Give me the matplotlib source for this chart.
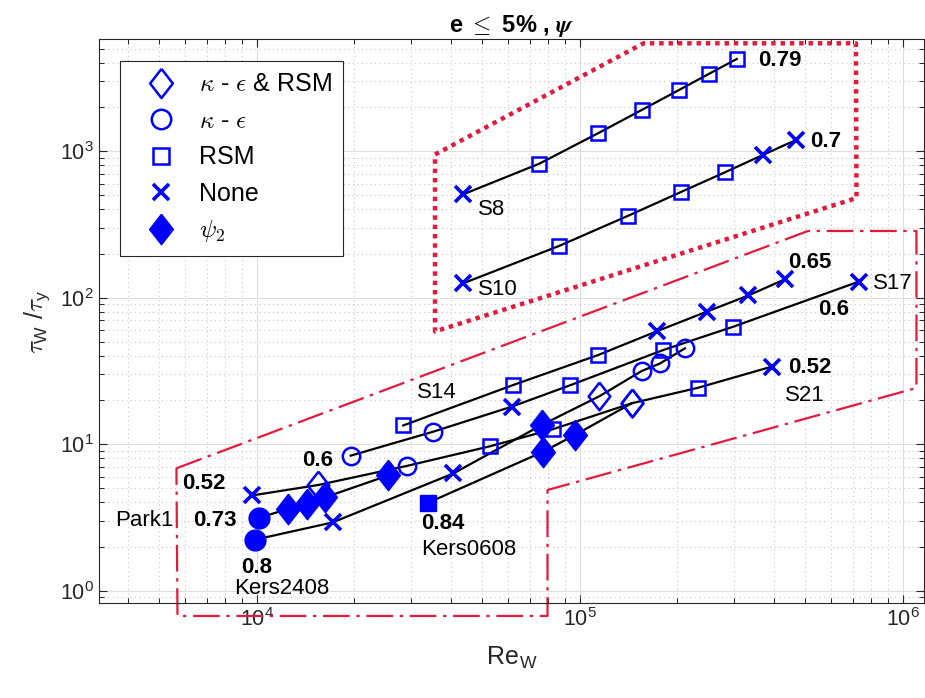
import matplotlib
matplotlib.use('Agg')
import matplotlib.pyplot as plt
from matplotlib.lines import Line2D

plt.rcParams['font.family'] = ['Liberation Sans', 'DejaVu Sans']
plt.rcParams['mathtext.fontset'] = 'cm'

# ---- data : (Re_W, tau_W/tau_y, marker code) per case ----
# marker codes: x None, s RSM, o k-eps, d k-eps & RSM, D psi2, O filled circle, S filled square
park1_re = [10200, 12530, 14310, 16330, 25500]
park1_tau = [3.146, 3.623, 3.920, 4.347, 6.113]
park1_mk = ['O', 'D', 'D', 'D', 'D']

kers2408_re = [9880, 17170, 40620, 76280, 115000, 155600, 177300, 211800]
kers2408_tau = [2.229, 2.922, 6.31, 13.52, 21.23, 31.6, 35.56, 45.14]
kers2408_mk = ['O', 'x', 'x', 'D', 'd', 'o', 'o', 'o']

kers0608_re = [33990, 77150, 96700, 144900]
kers0608_tau = [3.988, 8.889, 11.56, 19.02]
kers0608_mk = ['S', 'D', 'D', 'd']

s21_re = [9670, 15510, 29200, 52780, 82490, 144900, 232900, 392900]
s21_tau = [4.465, 5.266, 7.11, 9.676, 12.64, 19.02, 24.30, 33.81]
s21_mk = ['x', 'd', 'o', 's', 's', 'd', 's', 'x']

s14_re = [28420, 62300, 114200, 173200, 247300, 332700, 432100]
s14_tau = [13.42, 25.36, 40.63, 58.97, 80.25, 103.5, 133.6]
s14_mk = ['s', 's', 's', 'x', 'x', 'x', 'x']

s17_re = [19540, 35210, 61590, 93050, 181500, 298900, 730800]
s17_tau = [8.35, 12.17, 18.03, 25.16, 43.95, 63.4, 128.6]
s17_mk = ['o', 'o', 'x', 's', 's', 's', 'x']

s8_re = [43620, 74980, 113900, 155600, 203000, 251900, 306300]
s8_tau = [507.8, 821.5, 1325, 1911, 2617, 3381, 4259]
s8_mk = ['x', 's', 's', 's', 's', 's', 's']

s10_re = [43620, 86290, 140800, 205900, 281800, 368700, 467300]
s10_tau = [125.4, 225.4, 361.2, 526.6, 717.8, 941.9, 1193]
s10_mk = ['x', 's', 's', 's', 's', 'x', 'x']

# outlined regions
dotted_re = [35650, 157600, 716700, 719400, 35650, 35650]
dotted_tau = [949.5, 5452, 5452, 479, 58.8, 949.5]
dashdot_re = [5645, 508900, 1103000, 1103000, 79500, 79500, 5686, 5645]
dashdot_tau = [6.848, 285.3, 285.3, 24.19, 4.867, 0.672, 0.672, 6.848]

# text labels: (text, Re, tau, bold)
labels = [
    ('0.79', 356500, 4128, True), ('0.7', 516400, 1161, True),
    ('S8', 48550, 396.8, False), ('S10', 48550, 112.9, False),
    ('0.65', 442300, 174.4, True), ('S17', 811000, 125.4, False),
    ('0.6', 547900, 83.7, True), ('0.52', 442300, 33.28, True),
    ('S21', 432100, 21.33, False), ('S14', 31430, 22.61, False),
    ('0.6', 13780, 7.717, True), ('0.52', 5859, 5.41, True),
    ('Park1', 3641, 2.991, False), ('0.73', 6338, 2.991, True),
    ('0.8', 8923, 1.445, True), ('Kers2408', 8523, 1.038, False),
    ('0.84', 32190, 2.853, True), ('Kers0608', 32190, 1.896, False),
]

blue = '#0000ff'
red = '#e41a3c'
diamond = [(0, 1), (0.78, 0), (0, -1), (-0.78, 0), (0, 1)]
styles = {
    'x': dict(marker='x', ms=11, mew=2.6, mfc='none', mec=blue),
    's': dict(marker='s', ms=9.5, mew=1.8, mfc='none', mec=blue),
    'o': dict(marker='o', ms=12.5, mew=1.8, mfc='none', mec=blue),
    'd': dict(marker=diamond, ms=20, mew=1.8, mfc='none', mec=blue),
    'D': dict(marker=diamond, ms=22, mew=1, mfc=blue, mec=blue),
    'O': dict(marker='o', ms=15, mew=1, mfc=blue, mec=blue),
    'S': dict(marker='s', ms=11, mew=1, mfc=blue, mec=blue),
}

fig = plt.figure(figsize=(9.25, 6.98), dpi=100)
ax = fig.add_axes([99 / 925, 1 - 603.3 / 698, 825 / 925, 564 / 698])
ax.set_xscale('log')
ax.set_yscale('log')

cases = [(park1_re, park1_tau, park1_mk), (kers2408_re, kers2408_tau, kers2408_mk),
         (kers0608_re, kers0608_tau, kers0608_mk), (s21_re, s21_tau, s21_mk),
         (s14_re, s14_tau, s14_mk), (s17_re, s17_tau, s17_mk),
         (s8_re, s8_tau, s8_mk), (s10_re, s10_tau, s10_mk)]

for re, tau, mk in cases:
    ax.plot(re, tau, '-', color='k', lw=1.6, zorder=3)
for re, tau, mk in cases:
    for xv, yv, m in zip(re, tau, mk):
        ax.plot([xv], [yv], ls='none', zorder=4, **styles[m])

ax.plot(dotted_re, dotted_tau, color=red, lw=3.2, ls=(0, (1, 1.1)), zorder=2)
ax.plot(dashdot_re, dashdot_tau, color=red, lw=1.6, ls=(0, (12, 3, 1.5, 3)),
        zorder=2, clip_on=False)

for txt, xv, yv, bold in labels:
    ax.text(xv, yv, txt, fontsize=16, fontweight='bold' if bold else 'normal',
            ha='left', va='center', color='k', zorder=5)

ax.set_xlim(3250, 1.164e6)
ax.set_ylim(0.82, 5805)

ax.grid(True, which='major', color='#dedede', lw=0.8, ls='-')
ax.grid(True, which='minor', color='#c8c8c8', lw=0.8, ls=(0, (1, 3)))
ax.set_axisbelow(True)
ax.tick_params(which='both', direction='in', top=True, right=True,
               colors='#262626', labelsize=15.5)
ax.tick_params(which='major', length=6, width=0.8)
ax.tick_params(which='minor', length=3.5, width=0.7)
for sp in ax.spines.values():
    sp.set_color('#262626')
    sp.set_linewidth(0.8)

ax.set_xlabel(r'Re$_{\mathregular{W}}$', fontsize=18, color='#262626', labelpad=10)
ax.set_ylabel(r'$\tau_{\mathregular{W}}$ /$\tau_{\mathregular{y}}$', fontsize=18,
              color='#262626', labelpad=6)
ax.set_title(r'e $\leq$ 5% , $\boldsymbol{\psi}$', fontsize=17, fontweight='bold', pad=5)

handles = [
    Line2D([], [], ls='none', **dict(styles['d'], ms=21)),
    Line2D([], [], ls='none', **dict(styles['o'], ms=14)),
    Line2D([], [], ls='none', **dict(styles['s'], ms=11)),
    Line2D([], [], ls='none', **dict(styles['x'], ms=12)),
    Line2D([], [], ls='none', **dict(styles['D'], ms=22)),
]
names = [r'$\kappa$ - $\epsilon$ & RSM', r'$\kappa$ - $\epsilon$', 'RSM', 'None', r'$\psi_2$']
leg = ax.legend(handles, names, loc='upper left', bbox_to_anchor=(0.0255, 0.9615),
                borderaxespad=0, fontsize=18, fancybox=False, framealpha=1,
                edgecolor='#262626', labelspacing=0.5, handletextpad=0.3,
                borderpad=0.45, handlelength=2.4)
leg.get_frame().set_linewidth(0.8)
leg.set_zorder(6)

fig.savefig('out.png', dpi=100)
